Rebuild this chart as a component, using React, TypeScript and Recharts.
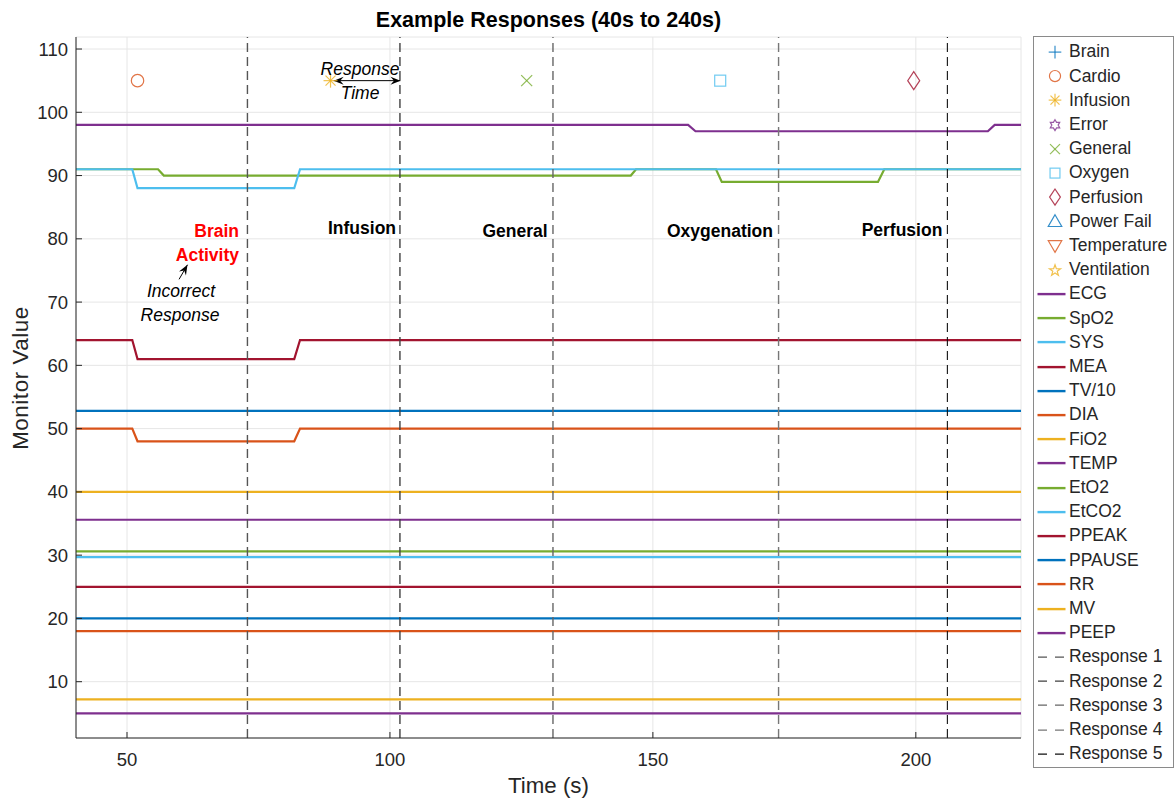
import React from 'react';
import {
  ComposedChart,
  Line,
  Scatter,
  XAxis,
  YAxis,
  CartesianGrid,
  ReferenceLine,
} from 'recharts';

const FONT = '"Liberation Sans", Arial, Helvetica, sans-serif';
const INK = '#262626';

// MATLAB-ish default colour order
const BLUE = '#0072BD';
const ORANGE = '#D95319';
const YELLOW = '#EDB120';
const PURPLE = '#7E2F8E';
const GREEN = '#77AC30';
const CYAN = '#4DBEEE';
const RED = '#A2142F';

const X_MIN = 40.3;
const X_MAX = 220;
const Y_MIN = 1.1;
const Y_MAX = 111.9;
const xTicks = [50, 100, 150, 200];
const yTicks = [10, 20, 30, 40, 50, 60, 70, 80, 90, 100, 110];

// monitor traces: breakpoint times (s) and values
const ecgTime = [X_MIN, 156.7, 158.1, 213.7, 215, X_MAX];
const ecgValue = [98, 98, 97, 97, 98, 98];
const spo2Time = [X_MIN, 55.9, 57, 145.8, 146.8, 162, 163.1, 192.8, 194, X_MAX];
const spo2Value = [91, 91, 90, 90, 91, 91, 89, 89, 91, 91];
const dropTime = [X_MIN, 51, 52, 81.8, 82.9, X_MAX];
const sysValue = [91, 91, 88, 88, 91, 91];
const meaValue = [64, 64, 61, 61, 64, 64];
const diaValue = [50, 50, 48, 48, 50, 50];
const flatTime = [X_MIN, X_MAX];
const tv10Value = [52.8, 52.8];
const fio2Value = [40, 40];
const tempValue = [35.6, 35.6];
const eto2Value = [30.6, 30.6];
const etco2Value = [29.7, 29.7];
const ppeakValue = [25, 25];
const ppauseValue = [20, 20];
const rrValue = [18, 18];
const mvValue = [7.2, 7.2];
const peepValue = [5, 5];

// alarm markers (time, level)
const alarmLevel = 105;
const brainAlarms: number[] = [];
const cardioAlarms = [52];
const infusionAlarms = [88.7];
const errorAlarms: number[] = [];
const generalAlarms = [126];
const oxygenAlarms = [162.8];
const perfusionAlarms = [199.6];
const powerAlarms: number[] = [];
const temperatureAlarms: number[] = [];
const ventilationAlarms: number[] = [];

// operator response times
const responseTimes = [72.9, 101.9, 131, 173.9, 206];
const responseColors = ['#555555', '#404040', '#666666', '#777777', '#111111'];
const responseWidths = [1.4, 1.4, 1.4, 1.4, 1.1];

type Kind =
  | 'plus' | 'circle' | 'asterisk' | 'hexagram' | 'cross'
  | 'square' | 'diamond' | 'triUp' | 'triDown' | 'pentagram';

const alarms: { name: string; kind: Kind; color: string; times: number[] }[] = [
  { name: 'Brain', kind: 'plus', color: BLUE, times: brainAlarms },
  { name: 'Cardio', kind: 'circle', color: ORANGE, times: cardioAlarms },
  { name: 'Infusion', kind: 'asterisk', color: YELLOW, times: infusionAlarms },
  { name: 'Error', kind: 'hexagram', color: PURPLE, times: errorAlarms },
  { name: 'General', kind: 'cross', color: GREEN, times: generalAlarms },
  { name: 'Oxygen', kind: 'square', color: CYAN, times: oxygenAlarms },
  { name: 'Perfusion', kind: 'diamond', color: RED, times: perfusionAlarms },
  { name: 'Power Fail', kind: 'triUp', color: BLUE, times: powerAlarms },
  { name: 'Temperature', kind: 'triDown', color: ORANGE, times: temperatureAlarms },
  { name: 'Ventilation', kind: 'pentagram', color: YELLOW, times: ventilationAlarms },
];

const traces = [
  { name: 'ECG', color: PURPLE, t: ecgTime, v: ecgValue },
  { name: 'SpO2', color: GREEN, t: spo2Time, v: spo2Value },
  { name: 'SYS', color: CYAN, t: dropTime, v: sysValue },
  { name: 'MEA', color: RED, t: dropTime, v: meaValue },
  { name: 'TV/10', color: BLUE, t: flatTime, v: tv10Value },
  { name: 'DIA', color: ORANGE, t: dropTime, v: diaValue },
  { name: 'FiO2', color: YELLOW, t: flatTime, v: fio2Value },
  { name: 'TEMP', color: PURPLE, t: flatTime, v: tempValue },
  { name: 'EtO2', color: GREEN, t: flatTime, v: eto2Value },
  { name: 'EtCO2', color: CYAN, t: flatTime, v: etco2Value },
  { name: 'PPEAK', color: RED, t: flatTime, v: ppeakValue },
  { name: 'PPAUSE', color: BLUE, t: flatTime, v: ppauseValue },
  { name: 'RR', color: ORANGE, t: flatTime, v: rrValue },
  { name: 'MV', color: YELLOW, t: flatTime, v: mvValue },
  { name: 'PEEP', color: PURPLE, t: flatTime, v: peepValue },
];

function star(cx: number, cy: number, n: number, ro: number, ri: number) {
  const pts: string[] = [];
  for (let i = 0; i < n * 2; i++) {
    const r = i % 2 === 0 ? ro : ri;
    const a = -Math.PI / 2 + (i * Math.PI) / n;
    pts.push(`${cx + r * Math.cos(a)},${cy + r * Math.sin(a)}`);
  }
  return pts.join(' ');
}

function Marker({ kind, color, cx, cy, s = 1 }: { kind: Kind; color: string; cx: number; cy: number; s?: number }) {
  const p = { fill: 'none', stroke: color, strokeWidth: 1.2, strokeOpacity: 0.8 };
  switch (kind) {
    case 'plus':
      return (
        <g {...p}>
          <line x1={cx - 7 * s} y1={cy} x2={cx + 7 * s} y2={cy} />
          <line x1={cx} y1={cy - 7 * s} x2={cx} y2={cy + 7 * s} />
        </g>
      );
    case 'circle':
      return <circle cx={cx} cy={cy} r={6.2 * s} {...p} />;
    case 'asterisk':
      return (
        <g {...p}>
          <line x1={cx - 7 * s} y1={cy} x2={cx + 7 * s} y2={cy} />
          <line x1={cx} y1={cy - 7 * s} x2={cx} y2={cy + 7 * s} />
          <line x1={cx - 5 * s} y1={cy - 5 * s} x2={cx + 5 * s} y2={cy + 5 * s} />
          <line x1={cx - 5 * s} y1={cy + 5 * s} x2={cx + 5 * s} y2={cy - 5 * s} />
        </g>
      );
    case 'hexagram':
      return <polygon points={star(cx, cy, 6, 6 * s, 3.5 * s)} {...p} />;
    case 'cross':
      return (
        <g {...p}>
          <line x1={cx - 5.5 * s} y1={cy - 5.5 * s} x2={cx + 5.5 * s} y2={cy + 5.5 * s} />
          <line x1={cx - 5.5 * s} y1={cy + 5.5 * s} x2={cx + 5.5 * s} y2={cy - 5.5 * s} />
        </g>
      );
    case 'square':
      return <rect x={cx - 5.5 * s} y={cy - 5.5 * s} width={11 * s} height={11 * s} {...p} />;
    case 'diamond':
      return (
        <polygon
          points={`${cx},${cy - 9 * s} ${cx + 6 * s},${cy} ${cx},${cy + 9 * s} ${cx - 6 * s},${cy}`}
          {...p}
        />
      );
    case 'triUp':
      return (
        <polygon points={`${cx},${cy - 7 * s} ${cx + 7.5 * s},${cy + 6 * s} ${cx - 7.5 * s},${cy + 6 * s}`} {...p} />
      );
    case 'triDown':
      return (
        <polygon points={`${cx},${cy + 7 * s} ${cx + 7.5 * s},${cy - 6 * s} ${cx - 7.5 * s},${cy - 6 * s}`} {...p} />
      );
    case 'pentagram':
      return <polygon points={star(cx, cy + 0.5, 5, 6.5 * s, 2.6 * s)} {...p} />;
  }
  return null;
}

function arrowHead(x: number, y: number, a: number) {
  const L = 10;
  const W = 4;
  const bx = x - L * Math.cos(a);
  const by = y - L * Math.sin(a);
  const nx = x - 0.65 * L * Math.cos(a);
  const ny = y - 0.65 * L * Math.sin(a);
  const px = -Math.sin(a) * W;
  const py = Math.cos(a) * W;
  return `${x},${y} ${bx + px},${by + py} ${nx},${ny} ${bx - px},${by - py}`;
}

const arrowShape = (both: boolean) => (props: any) => {
  const { x1, y1, x2, y2 } = props;
  const a = Math.atan2(y2 - y1, x2 - x1);
  return (
    <g>
      <line x1={x1} y1={y1} x2={x2} y2={y2} stroke="#000" strokeWidth={1} />
      <polygon points={arrowHead(x2, y2, a)} fill="#000" />
      {both && <polygon points={arrowHead(x1, y1, a + Math.PI)} fill="#000" />}
    </g>
  );
};

const notes = [
  { text: 'Brain', x: 239, y: 231, align: 'right', bold: true, color: '#FF0000' },
  { text: 'Activity', x: 239, y: 255, align: 'right', bold: true, color: '#FF0000' },
  { text: 'Incorrect', x: 181, y: 291, align: 'center', italic: true },
  { text: 'Response', x: 180, y: 315, align: 'center', italic: true },
  { text: 'Response', x: 360, y: 69, align: 'center', italic: true },
  { text: 'Time', x: 360, y: 93, align: 'center', italic: true },
  { text: 'Infusion', x: 362, y: 228, align: 'center', bold: true },
  { text: 'General', x: 515, y: 231, align: 'center', bold: true },
  { text: 'Oxygenation', x: 720, y: 231, align: 'center', bold: true },
  { text: 'Perfusion', x: 902, y: 230, align: 'center', bold: true },
];

const ROW = 24.2;

function LegendBox() {
  const rows: React.ReactNode[] = [];
  let i = 0;
  const rowStyle = (k: number): React.CSSProperties => ({
    position: 'absolute',
    left: 0,
    top: 3 + k * ROW,
    height: ROW,
    width: 138,
    display: 'flex',
    alignItems: 'center',
  });
  const label = (t: string) => (
    <span style={{ fontSize: 17.5, color: INK, lineHeight: 1, marginLeft: 2 }}>{t}</span>
  );
  alarms.forEach((a) => {
    rows.push(
      <div key={a.name} style={rowStyle(i++)}>
        <svg width={33} height={ROW}>
          <Marker kind={a.kind} color={a.color} cx={21} cy={ROW / 2} s={0.9} />
        </svg>
        {label(a.name)}
      </div>
    );
  });
  traces.forEach((s) => {
    rows.push(
      <div key={s.name} style={rowStyle(i++)}>
        <svg width={33} height={ROW}>
          <line x1={3.5} x2={31.5} y1={ROW / 2} y2={ROW / 2} stroke={s.color} strokeWidth={2.4} />
        </svg>
        {label(s.name)}
      </div>
    );
  });
  responseTimes.forEach((_, k) => {
    rows.push(
      <div key={`r${k}`} style={rowStyle(i++)}>
        <svg width={33} height={ROW}>
          <line x1={4} x2={30} y1={ROW / 2} y2={ROW / 2} stroke={responseColors[k]} strokeWidth={1.2} strokeDasharray="9 8" />
        </svg>
        {label(`Response ${k + 1}`)}
      </div>
    );
  });
  return (
    <div
      style={{
        position: 'absolute',
        left: 1033,
        top: 36,
        width: 139,
        height: 730,
        border: '1px solid #8a8a8a',
        background: '#fff',
      }}
    >
      {rows}
    </div>
  );
}

export default function App() {
  return (
    <div
      style={{
        position: 'absolute',
        left: 0,
        top: 0,
        width: 1175,
        height: 800,
        background: '#fff',
        fontFamily: FONT,
      }}
    >
      <ComposedChart
        width={1175}
        height={800}
        margin={{ top: 37, right: 154, bottom: 0, left: 0 }}
        style={{ fontFamily: FONT }}
      >
        <CartesianGrid stroke="#e6e6e6" strokeWidth={1} />
        <XAxis
          xAxisId={0}
          dataKey="t"
          type="number"
          domain={[X_MIN, X_MAX]}
          ticks={xTicks}
          allowDataOverflow
          height={62}
          tickSize={-6}
          tickMargin={21}
          stroke={INK}
          tick={{ fill: INK, fontSize: 18.5 }}
        />
        <XAxis
          xAxisId="top"
          orientation="top"
          type="number"
          domain={[X_MIN, X_MAX]}
          ticks={xTicks}
          allowDataOverflow
          height={0}
          tickSize={-6}
          stroke={INK}
          tick={false}
        />
        <YAxis
          yAxisId={0}
          type="number"
          domain={[Y_MIN, Y_MAX]}
          ticks={yTicks}
          allowDataOverflow
          width={76}
          tickSize={-6}
          tickMargin={14}
          stroke={INK}
          tick={{ fill: INK, fontSize: 18.5 }}
        />
        <YAxis
          yAxisId="right"
          orientation="right"
          type="number"
          domain={[Y_MIN, Y_MAX]}
          ticks={yTicks}
          allowDataOverflow
          width={0}
          tickSize={-6}
          stroke={INK}
          tick={false}
        />
        {alarms
          .filter((a) => a.times.length > 0)
          .map((a) => (
            <Scatter
              key={a.name}
              name={a.name}
              data={a.times.map((t) => ({ t, v: alarmLevel }))}
              dataKey="v"
              isAnimationActive={false}
              shape={(p: any) => <Marker kind={a.kind} color={a.color} cx={p.cx} cy={p.cy} />}
            />
          ))}
        {traces.map((s) => (
          <Line
            key={s.name}
            name={s.name}
            data={s.t.map((t, k) => ({ t, v: s.v[k] }))}
            dataKey="v"
            type="linear"
            stroke={s.color}
            strokeWidth={2.2}
            dot={false}
            activeDot={false}
            isAnimationActive={false}
          />
        ))}
        {responseTimes.map((t, k) => (
          <ReferenceLine
            key={`resp${k}`}
            x={t}
            stroke={responseColors[k]}
            strokeWidth={responseWidths[k]}
            strokeDasharray="9 5"
          />
        ))}
        <ReferenceLine
          segment={[
            { x: 89.3, y: alarmLevel },
            { x: 102.0, y: alarmLevel },
          ]}
          shape={arrowShape(true)}
        />
        <ReferenceLine
          segment={[
            { x: 59.9, y: 73.6 },
            { x: 61.5, y: 75.9 },
          ]}
          shape={arrowShape(false)}
        />
      </ComposedChart>

      <div
        style={{
          position: 'absolute',
          left: 76,
          width: 945,
          top: 8,
          textAlign: 'center',
          fontWeight: 'bold',
          fontSize: 21.5,
          color: '#000',
          lineHeight: '24px',
        }}
      >
        Example Responses (40s to 240s)
      </div>
      <div
        style={{
          position: 'absolute',
          left: 76,
          width: 945,
          top: 773,
          textAlign: 'center',
          fontSize: 22.3,
          color: INK,
          lineHeight: '26px',
        }}
      >
        Time (s)
      </div>
      <div
        style={{
          position: 'absolute',
          left: 21,
          top: 378,
          transform: 'translate(-50%, -50%) rotate(-90deg)',
          fontSize: 22.3,
          letterSpacing: 0.6,
          color: INK,
          whiteSpace: 'nowrap',
          lineHeight: '26px',
        }}
      >
        Monitor Value
      </div>

      {notes.map((n, k) => (
        <div
          key={k}
          style={{
            position: 'absolute',
            left: n.x,
            top: n.y,
            transform:
              n.align === 'right' ? 'translate(-100%, -50%)' : 'translate(-50%, -50%)',
            fontSize: 17.5,
            fontWeight: n.bold ? 'bold' : 'normal',
            fontStyle: n.italic ? 'italic' : 'normal',
            color: n.color || '#000',
            whiteSpace: 'nowrap',
            lineHeight: '20px',
          }}
        >
          {n.text}
        </div>
      ))}

      <LegendBox />
    </div>
  );
}
